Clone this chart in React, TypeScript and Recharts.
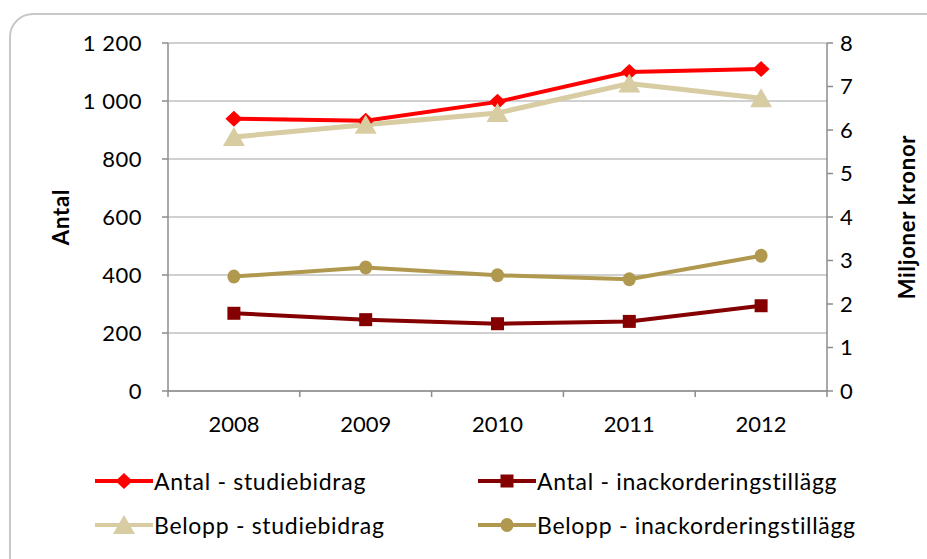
import { LineChart, Line, XAxis, YAxis, CartesianGrid } from "recharts";

const YEARS = ["2008", "2009", "2010", "2011", "2012"];
const ANTAL_STUDIEBIDRAG = [939, 932, 997, 1100, 1110];
const ANTAL_INACK = [268, 246, 232, 240, 294];
const BELOPP_STUDIEBIDRAG = [5.84, 6.12, 6.39, 7.07, 6.73];
const BELOPP_INACK = [2.63, 2.84, 2.66, 2.57, 3.11];
const LEFT_TICKS = [0, 200, 400, 600, 800, 1000, 1200];
const RIGHT_TICKS = [0, 1, 2, 3, 4, 5, 6, 7, 8];

const W = 927;
const H = 559;
const PLOT_LEFT = 168;
const PLOT_RIGHT = 827;
const PLOT_TOP = 43;
const PLOT_BOTTOM = 391;
const BAND = (PLOT_RIGHT - PLOT_LEFT) / YEARS.length;
const FONT = "Lato, 'Noto Sans', sans-serif";
const AXIS_COLOR = "#8c8c8c";

type Marker = "diamond" | "square" | "triangle" | "circle";

const SERIES: { key: string; name: string; color: string; axis: string; marker: Marker; values: number[] }[] = [
    { key: "antalStudie", name: "Antal - studiebidrag", color: "#ff0000", axis: "left", marker: "diamond", values: ANTAL_STUDIEBIDRAG },
    { key: "antalInack", name: "Antal - inackorderingstillägg", color: "#850000", axis: "left", marker: "square", values: ANTAL_INACK },
    { key: "beloppStudie", name: "Belopp - studiebidrag", color: "#d8cca3", axis: "right", marker: "triangle", values: BELOPP_STUDIEBIDRAG },
    { key: "beloppInack", name: "Belopp - inackorderingstillägg", color: "#b0994e", axis: "right", marker: "circle", values: BELOPP_INACK },
];

const data = YEARS.map((year, i) => {
    const row: Record<string, string | number> = { year };
    SERIES.forEach((s) => { row[s.key] = s.values[i]; });
    return row;
});

function markerShape(marker: Marker, cx: number, cy: number, color: string, key?: string) {
    switch (marker) {
        case "diamond":
            return <polygon key={key} points={`${cx},${cy - 8} ${cx + 8.5},${cy} ${cx},${cy + 8} ${cx - 8.5},${cy}`} fill={color} />;
        case "square":
            return <rect key={key} x={cx - 6.5} y={cy - 6.5} width={13} height={13} fill={color} />;
        case "triangle":
            return <polygon key={key} points={`${cx},${cy - 10} ${cx + 11},${cy + 9} ${cx - 11},${cy + 9}`} fill={color} />;
        default:
            return <ellipse key={key} cx={cx} cy={cy} rx={6.5} ry={7} fill={color} />;
    }
}

const fmt = (v: number) => String(v).replace(/\B(?=(\d{3})+(?!\d))/g, " ");

function YearTick(props: any) {
    const { x, y, payload, index } = props;
    const last = index === YEARS.length - 1;
    return (
        <g>
            <line x1={x - BAND / 2} x2={x - BAND / 2} y1={y} y2={y + 6} stroke={AXIS_COLOR} strokeWidth={1.5} />
            {last && <line x1={x + BAND / 2} x2={x + BAND / 2} y1={y} y2={y + 6} stroke={AXIS_COLOR} strokeWidth={1.5} />}
            <text x={x} y={y + 41} textAnchor="middle" fontSize={22} fontFamily={FONT} fill="#000">{payload.value}</text>
        </g>
    );
}

function Legend() {
    const pos = [
        { left: 95, top: 481 },
        { left: 478, top: 481 },
        { left: 95, top: 525 },
        { left: 478, top: 525 },
    ];
    return (
        <>
            {SERIES.map((s, i) => (
                <div key={s.key} style={{ position: "absolute", left: pos[i].left, top: pos[i].top - 14, height: 28, display: "flex", alignItems: "center" }}>
                    <svg width={58} height={28}>
                        <line x1={0} x2={58} y1={14} y2={14} stroke={s.color} strokeWidth={4} />
                        {markerShape(s.marker, 29, 14, s.color)}
                    </svg>
                    <span style={{ fontFamily: FONT, fontSize: 23, letterSpacing: 0.7, color: "#000", marginLeft: 1, whiteSpace: "nowrap" }}>{s.name}</span>
                </div>
            ))}
        </>
    );
}

const tickStyle = { fill: "#000", fontSize: 22, fontFamily: FONT, letterSpacing: 0.5 };
const titleStyle = { position: "absolute" as const, top: 217, transform: "translate(-50%, -50%) rotate(-90deg)", fontFamily: FONT, fontSize: 22, fontWeight: 700, letterSpacing: 0.8, whiteSpace: "nowrap" as const };

export default function App() {
    return (
        <div style={{ position: "fixed", left: 0, top: 0, width: W, height: H, overflow: "hidden", background: "#fff" }}>
            <div style={{ position: "absolute", left: 9, top: 13, width: 940, height: 580, border: "2px solid #c8c8c8", borderRadius: 24 }} />
            <div style={{ position: "absolute", left: 0, top: 0 }}>
                <LineChart
                    width={W}
                    height={H}
                    data={data}
                    margin={{ top: PLOT_TOP, right: W - PLOT_RIGHT - 60, left: PLOT_LEFT - 68, bottom: H - PLOT_BOTTOM - 30 }}
                >
                    <CartesianGrid yAxisId="left" vertical={false} stroke="#c0c0c0" strokeWidth={1.5} />
                    <XAxis
                        dataKey="year"
                        height={30}
                        padding={{ left: BAND / 2, right: BAND / 2 }}
                        axisLine={{ stroke: AXIS_COLOR, strokeWidth: 1.5 }}
                        tickLine={false}
                        tickSize={0}
                        tickMargin={0}
                        tick={<YearTick />}
                        interval={0}
                    />
                    <YAxis
                        yAxisId="left"
                        width={68}
                        domain={[0, 1200]}
                        ticks={LEFT_TICKS}
                        tickFormatter={fmt}
                        axisLine={{ stroke: AXIS_COLOR, strokeWidth: 1.5 }}
                        tickLine={{ stroke: AXIS_COLOR, strokeWidth: 1.5 }}
                        tickSize={6}
                        tickMargin={20}
                        tick={tickStyle}
                    />
                    <YAxis
                        yAxisId="right"
                        orientation="right"
                        width={60}
                        domain={[0, 8]}
                        ticks={RIGHT_TICKS}
                        axisLine={{ stroke: AXIS_COLOR, strokeWidth: 1.5 }}
                        tickLine={{ stroke: AXIS_COLOR, strokeWidth: 1.5 }}
                        tickSize={6}
                        tickMargin={7}
                        tick={tickStyle}
                    />
                    {SERIES.map((s) => (
                        <Line
                            key={s.key}
                            yAxisId={s.axis}
                            dataKey={s.key}
                            name={s.name}
                            type="linear"
                            stroke={s.color}
                            strokeWidth={s.marker === "triangle" ? 5 : 4}
                            isAnimationActive={false}
                            activeDot={false}
                            dot={(p: any) => markerShape(s.marker, p.cx, p.cy, s.color, `${s.key}-${p.index}`)}
                        />
                    ))}
                </LineChart>
            </div>
            <div style={{ ...titleStyle, left: 60 }}>Antal</div>
            <div style={{ ...titleStyle, left: 906 }}>Miljoner kronor</div>
            <Legend />
        </div>
    );
}
